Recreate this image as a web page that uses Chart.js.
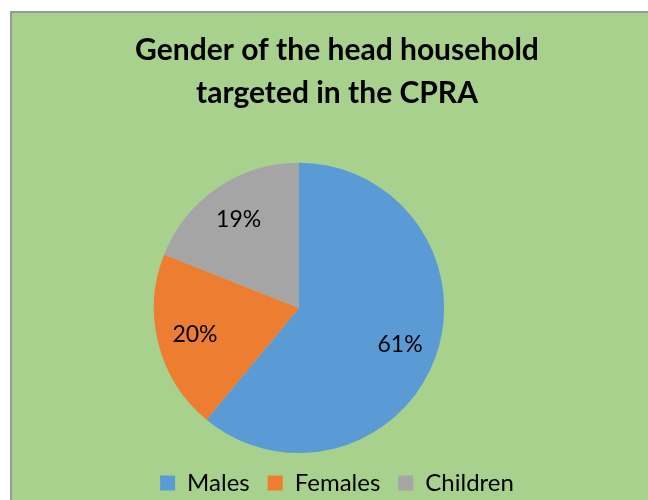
<!DOCTYPE html>
<html>
<head>
<meta charset="utf-8">
<script src="https://cdn.jsdelivr.net/npm/chart.js@4.4.0/dist/chart.umd.min.js"></script>
<style>
  html, body { margin: 0; padding: 0; background: #fff; overflow: hidden; }
  #box {
    position: absolute; left: 10px; top: 11px;
    width: 640px; height: 489px;
    background: #A9D18E;
    border-left: 2px solid #999;
    border-top: 2px solid #999;
  }
</style>
</head>
<body>
<div id="box"><canvas id="pieChart" width="640" height="489"></canvas></div>
<script>
const categories = ['Males', 'Females', 'Children'];
const shares = [61, 20, 19];
const sliceColors = ['#5B9BD5', '#ED7D31', '#A5A5A5'];
const titleLines = ['Gender of the head household', 'targeted in the CPRA'];

// move the pie left of the title/legend centre, as in the original
const shiftPie = {
    id: 'shiftPie',
    afterLayout(chart, args, opts) {
        chart.chartArea.left += opts.dx;
        chart.chartArea.right += opts.dx;
    }
};

// percent labels inside the slices
const sliceLabels = {
    id: 'sliceLabels',
    afterDatasetsDraw(chart) {
        const ctx = chart.ctx;
        const meta = chart.getDatasetMeta(0);
        ctx.save();
        ctx.font = '23px Lato, "Open Sans", sans-serif';
        ctx.fillStyle = '#000';
        ctx.textAlign = 'center';
        ctx.textBaseline = 'middle';
        meta.data.forEach((arc, i) => {
            const p = arc.getProps(['x', 'y', 'startAngle', 'endAngle', 'outerRadius'], true);
            const mid = (p.startAngle + p.endAngle) / 2;
            const r = p.outerRadius * 0.74;
            ctx.fillText(shares[i] + '%', p.x + Math.cos(mid) * r, p.y + Math.sin(mid) * r);
        });
        ctx.restore();
    }
};

new Chart(document.getElementById('pieChart'), {
    type: 'pie',
    data: {
        labels: categories,
        datasets: [{
            data: shares,
            backgroundColor: sliceColors,
            borderWidth: 0,
        }]
    },
    options: {
        responsive: false,
        animation: false,
        layout: { padding: { left: 10, right: 0, top: 0, bottom: -3 } },
        plugins: {
            shiftPie: { dx: -38 },
            title: {
                display: true,
                text: titleLines,
                color: '#000',
                font: { family: 'Lato, "Open Sans", sans-serif', size: 30, weight: 'bold', lineHeight: 1.43 },
                padding: { top: 16, bottom: 48 },
            },
            legend: {
                position: 'bottom',
                labels: {
                    color: '#000',
                    font: { family: 'Lato, "Open Sans", sans-serif', size: 24 },
                    boxWidth: 15,
                    boxHeight: 15,
                    padding: 18,
                },
            },
            tooltip: { enabled: false },
        },
    },
    plugins: [shiftPie, sliceLabels],
});
</script>
</body>
</html>
